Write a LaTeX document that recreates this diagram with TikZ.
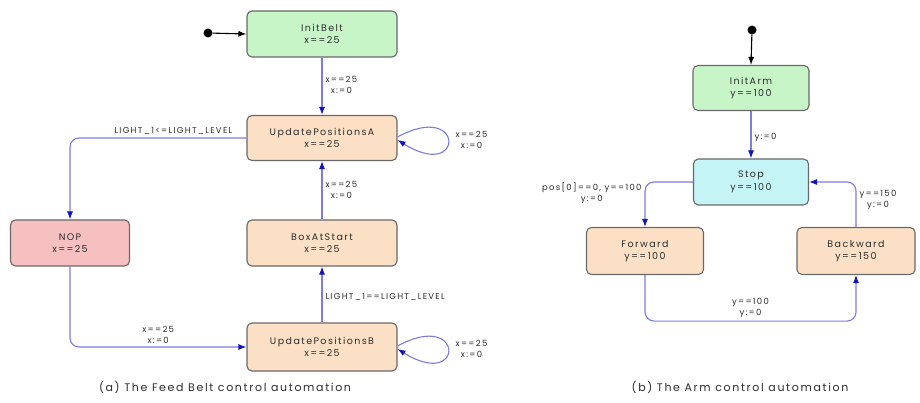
\documentclass[tikz,border=0pt]{standalone}
\usepackage{fontspec}
\setmainfont{Poppins}[LetterSpace=15]
\usetikzlibrary{arrows.meta,calc}
\definecolor{stgreen}{RGB}{200,245,200}
\definecolor{stpeach}{RGB}{252,224,198}
\definecolor{stpink}{RGB}{246,192,192}
\definecolor{stcyan}{RGB}{196,244,246}
\definecolor{stborder}{RGB}{105,105,105}
\definecolor{edgeline}{RGB}{125,125,225}
\definecolor{edgehead}{RGB}{20,20,190}
\definecolor{txt}{RGB}{45,45,45}
\tikzset{
  state/.style={draw=stborder, line width=1.1pt, rounded corners=5pt, align=center,
    font=\fontsize{9.5}{12.5}\selectfont, text=txt, inner sep=2pt},
  edge/.style={draw=edgeline, line width=1.1pt, rounded corners=9pt,
    -{Latex[length=8pt,width=6pt,color=edgehead]}},
  initedge/.style={draw=black, line width=1.1pt, -{Latex[length=8pt,width=6pt]}},
  lbl/.style={font=\fontsize{8.5}{11}\selectfont, text=txt, align=center, inner sep=3pt},
  captext/.style={font=\fontsize{11}{13}\selectfont, text=txt},
  dot/.style={circle, fill=black, inner sep=0pt, minimum size=9pt}
}
\begin{document}
\begin{tikzpicture}[x=1pt,y=-1pt]
\useasboundingbox[fill=white] (0,0) rectangle (920,403);
% ---- (a) Feed belt ----
\node[dot] (i1) at (208,33) {};
\node[state, fill=stgreen, minimum width=150pt, minimum height=46pt] (initB) at (322,34) {InitBelt\\x==25};
\node[state, fill=stpeach, minimum width=150pt, minimum height=45pt] (updA) at (322,138) {UpdatePositionsA\\x==25};
\node[state, fill=stpink, minimum width=119pt, minimum height=46pt] (nop) at (70,243) {NOP\\x==25};
\node[state, fill=stpeach, minimum width=150pt, minimum height=46pt] (box) at (322,243) {BoxAtStart\\x==25};
\node[state, fill=stpeach, minimum width=150pt, minimum height=48pt] (updB) at (322,347) {UpdatePositionsB\\x==25};

\draw[initedge] (i1) -- (initB.west);
\draw[edge] (initB.south) -- node[lbl, right, pos=0.47] {x==25\\x:=0} (updA.north);
\draw[edge] (box.north) -- node[lbl, right, pos=0.5] {x==25\\x:=0} (updA.south);
\draw[edge] (updB.north) -- node[lbl, right, pos=0.45] {LIGHT\_1==LIGHT\_LEVEL} (box.south);
\draw[edge] (updA.west) -| node[lbl, anchor=south east, pos=0.03] {LIGHT\_1<=LIGHT\_LEVEL} (nop.north);
\draw[edge] (nop.south) |- node[lbl, anchor=south, pos=0.75] {x==25\\x:=0} (updB.west);
\draw[edge, rounded corners=0pt] ([yshift=1pt]updA.east) .. controls (465,100) and (465,182) .. node[lbl, right, pos=0.5, xshift=4pt] {x==25\\x:=0} ([yshift=-2pt]updA.east);
\draw[edge, rounded corners=0pt] ([yshift=1pt]updB.east) .. controls (465,309) and (465,391) .. node[lbl, right, pos=0.5, xshift=4pt] {x==25\\x:=0} ([yshift=-2pt]updB.east);
\node[captext] (capa) at (225,387) {(a) The Feed Belt control automation};

% ---- (b) Arm ----
\node[dot] (i2) at (752,30) {};
\node[state, fill=stgreen, minimum width=116pt, minimum height=45pt] (initA) at (751,88) {InitArm\\y==100};
\node[state, fill=stcyan, minimum width=115pt, minimum height=46pt] (stop) at (751,182) {Stop\\y==100};
\node[state, fill=stpeach, minimum width=117pt, minimum height=47pt] (fwd) at (645,251) {Forward\\y==100};
\node[state, fill=stpeach, minimum width=118pt, minimum height=47pt] (bwd) at (856,251) {Backward\\y==150};

\draw[initedge] (i2) -- (initA.north);
\draw[edge] (initA.south) -- node[lbl, right, pos=0.55] {y:=0} (stop.north);
\draw[edge] (stop.west) -| node[lbl, anchor=east, pos=0.62] {pos[0]==0, y==100\\y:=0} (fwd.north);
\draw[edge] (bwd.north) |- node[lbl, anchor=west, pos=0.3] {y==150\\y:=0} (stop.east);
\draw[edge] (fwd.south) -- ++(0,46) -| node[lbl, anchor=south, pos=0.25] {y==100\\y:=0} (bwd.south);
\node[captext] (capb) at (740,387) {(b) The Arm control automation};
\end{tikzpicture}
\end{document}
